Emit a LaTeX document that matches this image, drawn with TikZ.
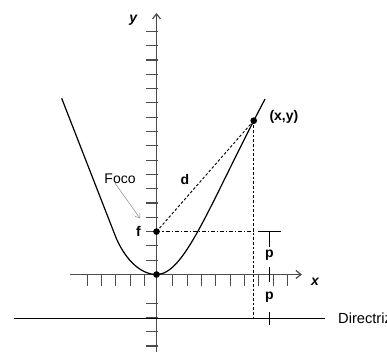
\documentclass[tikz,border=0pt]{standalone}
\usepackage{fontspec}
\setmainfont{Liberation Sans}
\usetikzlibrary{arrows.meta}

\begin{document}
\begin{tikzpicture}[
        x=10.725pt, y=10.725pt,
        axisln/.style={draw=black!70, line width=0.9pt},
        axisarrow/.style={axisln, -{Straight Barb[length=3.8pt, width=6pt]}},
        tickln/.style={draw=black!70, line width=0.8pt},
        curveln/.style={line width=0.9pt},
        dotpt/.style={circle, fill, inner sep=0pt, minimum size=5pt},
        dashln/.style={line width=0.7pt, dash pattern=on 2pt off 1.5pt},
        dashdotln/.style={line width=0.7pt, dash pattern=on 3pt off 1.5pt on 0.8pt off 1.5pt},
        measln/.style={line width=0.8pt},
        lbl/.style={font=\fontsize{10.5}{12}\selectfont, inner sep=2pt},
        boldlbl/.style={font=\fontsize{10.5}{12}\selectfont\bfseries, inner sep=2pt},
        axislbl/.style={font=\fontsize{10.5}{12}\selectfont\bfseries\itshape, inner sep=2pt},
        pointer/.style={draw=black!45, line width=0.4pt, -{Straight Barb[length=3pt, width=4.5pt]}}
      ]
      \useasboundingbox (-10.944,-5.559) rectangle (16.119,19.196);
      \def\dy{-3.05}
      \def\px{7.9}
      % axes
      \coordinate (xa) at (-6.05,0);
      \coordinate (xb) at (10.17,0);
      \coordinate (ya) at (0,-5.42);
      \coordinate (yb) at (0,18.29);
      \draw[axisarrow] (xa) -- (xb);
      \draw[axisarrow] (ya) -- (yb);
      \foreach \k in {-5,-4,-3,-2,-1,1,2,3,4,5,6,7,8,9} {
        \draw[tickln] (\k+0.15,0) -- (\k+0.15,-0.8);
      }
      \foreach \k in {-5,-4,-3,-2,1,2,...,17} {
        \draw[tickln] (-0.7,\k) -- (0.1,\k);
      }
      \node[axislbl] (ylbl) at (-1.63,17.8) {y};
      \node[axislbl] (xlbl) at (11.08,-0.5) {x};
      % directrix
      \coordinate (dirL) at (-9.97,\dy);
      \coordinate (dirR) at (11.78,\dy);
      \draw[line width=0.8pt] (dirL) -- (dirR);
      \node[lbl, font=\fontsize{11}{13}\selectfont, anchor=west] (dirlbl) at (12.5,\dy) {Directriz};
      % parabola
      \coordinate (V) at (0,0);
      \draw[curveln] (V) .. controls (-1.2,0) and (-2.3,1.21) .. (-2.9,2.75) -- (-6.63,12.32);
      \draw[curveln] (V) .. controls (2.0,0) and (3.7,4.9) .. (7.59,12.27);
      \node[dotpt] (Vd) at (V) {};
      \node[dotpt] (F) at (0,3) {};
      \node[dotpt] (P) at (6.8,10.76) {};
      \coordinate (Pd) at (P |- dirL);
      \coordinate (Pf) at (P |- F);
      \draw[dashln] (F.center) -- (P.center);
      \draw[dashln] (P.center) -- (Pd);
      \draw[dashdotln] (F.center) -- (Pf);
      \node[boldlbl] (flbl) at (-1.27,2.99) {f};
      \node[boldlbl] (dlbl) at (1.99,6.61) {d};
      \node[boldlbl, anchor=west] (plbl) at (7.7,11.03) {(x,y)};
      % foco
      \node[lbl] (foco) at (-2.55,6.73) {Foco};
      \coordinate (focotail) at (-2.9,6.38);
      \coordinate (focotip) at (-1.15,3.93);
      \draw[pointer] (focotail) -- (focotip);
      % p marks
      \coordinate (ta) at (7.12,3);
      \coordinate (tb) at (8.68,3);
      \coordinate (tm) at (\px,3);
      \node[boldlbl] (p1) at (\px,1.36) {p};
      \node[boldlbl] (p2) at (\px,-1.62) {p};
      \coordinate (pa) at (\px,0.55);
      \coordinate (pb) at (\px,-0.5);
      \coordinate (da) at (\px,-2.6);
      \coordinate (db) at (\px,-3.54);
      \draw[measln] (ta) -- (tb);
      \draw[measln] (tm) -- (p1.north);
      \draw[measln] (pa) -- (pb);
      \draw[measln] (da) -- (db);
    \end{tikzpicture}
\end{document}
